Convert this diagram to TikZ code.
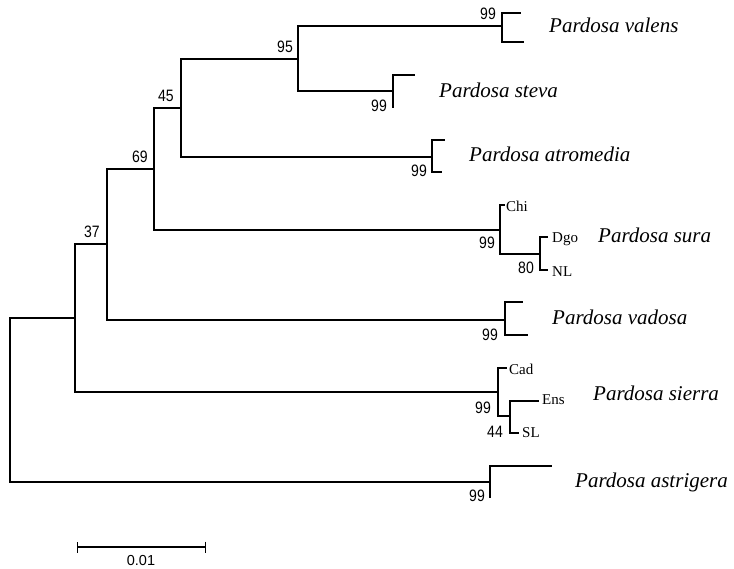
\documentclass[tikz,border=0pt]{standalone}
\usepackage{fontspec}
\setmainfont{Liberation Serif}
\newfontfamily\bootfont[FakeStretch=0.85]{Liberation Sans}
\newfontfamily\barfont{Liberation Sans}
\usetikzlibrary{arrows.meta,positioning}
\tikzset{
  br/.style    ={line width=1.2pt},
  boot/.style  ={font=\bootfont\fontsize{16.5}{16}\selectfont,inner sep=0pt},
  taxon/.style ={font=\fontsize{21}{21}\selectfont\itshape,anchor=base west,inner sep=0pt},
  pop/.style   ={font=\fontsize{15}{15}\selectfont,anchor=base west,inner sep=0pt},
  scalebar/.style={line width=1.2pt,{Bar[width=11pt,line width=1.2pt]}-{Bar[width=11pt,line width=1.2pt]}},
  barlbl/.style={font=\barfont\fontsize{14.5}{14}\selectfont,inner sep=0pt},
}
\begin{document}
\begin{tikzpicture}[x=1pt,y=-1pt]
  \useasboundingbox[fill=white] (0,0) rectangle (734,569);
  % internal nodes
  \coordinate (root) at (10,400);
  \coordinate (nA)   at (75,318);
  \coordinate (n37)  at (107,244);
  \coordinate (n69)  at (154,169);
  \coordinate (n45)  at (181,108);
  \coordinate (n95)  at (298,59);
  \coordinate (cVal) at (502,26);
  \coordinate (cSte) at (393,91);
  \coordinate (cAtr) at (432,157);
  \coordinate (cSur) at (500,230);
  \coordinate (cDN)  at (540,254);
  \coordinate (cVad) at (505,320);
  \coordinate (cSie) at (498,392);
  \coordinate (cES)  at (510,416);
  \coordinate (cAst) at (490,482);
  % tips
  \coordinate (tVal1) at (521,13);  \coordinate (tVal2) at (524,42);
  \coordinate (tSte1) at (415,75);  \coordinate (tSte2) at (393,108);
  \coordinate (tAtr1) at (445,140); \coordinate (tAtr2) at (442,172);
  \coordinate (tChi)  at (505,205); \coordinate (tDgo)  at (548,237);
  \coordinate (tNL)   at (548,270);
  \coordinate (tVad1) at (523,302); \coordinate (tVad2) at (528,335);
  \coordinate (tCad)  at (507,368); \coordinate (tEns)  at (539,401);
  \coordinate (tSL)   at (519,433);
  \coordinate (tAst1) at (552,466); \coordinate (tAst2) at (490,498);
  % branches
  \draw[br] (root) |- (nA)  (root) |- (cAst);
  \draw[br] (nA) |- (n37)   (nA) |- (cSie);
  \draw[br] (n37) |- (n69)  (n37) |- (cVad);
  \draw[br] (n69) |- (n45)  (n69) |- (cSur);
  \draw[br] (n45) |- (n95)  (n45) |- (cAtr);
  \draw[br] (n95) |- (cVal) (n95) |- (cSte);
  \draw[br] (cVal) |- (tVal1) (cVal) |- (tVal2);
  \draw[br] (cSte) |- (tSte1) (cSte) |- (tSte2);
  \draw[br] (cAtr) |- (tAtr1) (cAtr) |- (tAtr2);
  \draw[br] (cSur) |- (tChi)  (cSur) |- (cDN);
  \draw[br] (cDN) |- (tDgo)   (cDN) |- (tNL);
  \draw[br] (cVad) |- (tVad1) (cVad) |- (tVad2);
  \draw[br] (cSie) |- (tCad)  (cSie) |- (cES);
  \draw[br] (cES) |- (tEns)   (cES) |- (tSL);
  \draw[br] (cAst) |- (tAst1) (cAst) |- (tAst2);
  % bootstrap values
  \node[boot] (b37)  at (92,232)  {37};
  \node[boot] (b69)  at (140,157) {69};
  \node[boot] (b45)  at (166,96)  {45};
  \node[boot] (b95)  at (285,47)  {95};
  \node[boot] (bVal) at (488,14)  {99};
  \node[boot] (bSte) at (379,106) {99};
  \node[boot] (bAtr) at (419,171) {99};
  \node[boot] (bSur) at (487,243) {99};
  \node[boot] (bDN)  at (526,268) {80};
  \node[boot] (bVad) at (490,335) {99};
  \node[boot] (bSie) at (483,408) {99};
  \node[boot] (bES)  at (495,432) {44};
  \node[boot] (bAst) at (477,496) {99};
  % populations
  \node[pop] (lChi) at (506,212) {Chi};
  \node[pop] (lDgo) at (552,243) {Dgo};
  \node[pop] (lNL)  at (552,277) {NL};
  \node[pop] (lCad) at (509,375) {Cad};
  \node[pop] (lEns) at (542,405) {Ens};
  \node[pop] (lSL)  at (522,437) {SL};
  % species
  \node[taxon] (sVal) at (549,33)  {Pardosa valens};
  \node[taxon] (sSte) at (439,98)  {Pardosa steva};
  \node[taxon] (sAtr) at (469,162) {Pardosa atromedia};
  \node[taxon] (sSur) at (598,243) {Pardosa sura};
  \node[taxon] (sVad) at (552,325) {Pardosa vadosa};
  \node[taxon] (sSie) at (593,400) {Pardosa sierra};
  \node[taxon] (sAst) at (575,487) {Pardosa astrigera};
  % scale bar
  \coordinate (s0) at (77,547);
  \coordinate (s1) at (206,547);
  \draw[scalebar] (s0) -- (s1);
  \node[barlbl] (sLbl) at (141,561) {0.01};
\end{tikzpicture}
\end{document}
